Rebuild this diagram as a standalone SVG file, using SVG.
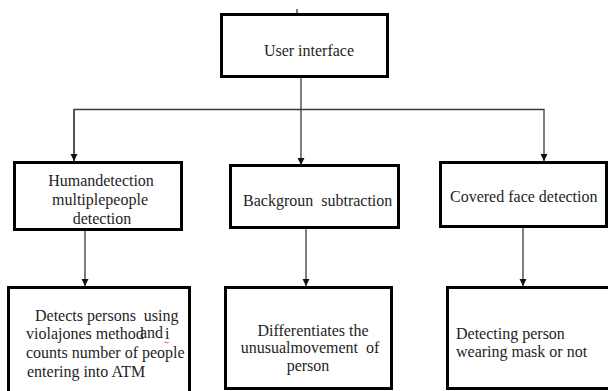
<svg xmlns="http://www.w3.org/2000/svg" width="608" height="391" viewBox="0 0 608 391" font-family="Liberation Serif, Times New Roman, serif">
  <style>
    .box { fill: #ffffff; stroke: #000000; stroke-width: 3; }
    .lbl { font-family: 'Liberation Serif', 'Times New Roman', serif; font-size: 16px; fill: #1e1e1e; }
    .mid { text-anchor: middle; }
    .conn { stroke: #3a3a3a; stroke-width: 1.3; fill: none; }
  </style>
  <defs>
    <marker id="arrow" viewBox="0 0 10 10" refX="10" refY="5" markerWidth="7" markerHeight="8" markerUnits="userSpaceOnUse" orient="auto">
      <path d="M0,0 L10,5 L0,10 Z" fill="#111111"/>
    </marker>
  </defs>

  <rect width="608" height="391" fill="#ffffff"/>

  <!-- connectors -->
  <g id="connectors">
    <line class="conn" x1="297" y1="9" x2="297" y2="13"/>
    <line class="conn" x1="301" y1="77" x2="301" y2="165" marker-end="url(#arrow)"/>
    <polyline class="conn" points="74,161 74,109.5 544,109.5 544,161" marker-end="url(#arrow)"/>
    <line class="conn" x1="74" y1="109.5" x2="74" y2="161" marker-end="url(#arrow)"/>
    <line class="conn" x1="85" y1="231" x2="85" y2="286" marker-end="url(#arrow)"/>
    <line class="conn" x1="306" y1="229" x2="306" y2="286" marker-end="url(#arrow)"/>
    <line class="conn" x1="523" y1="228" x2="523" y2="286" marker-end="url(#arrow)"/>
  </g>

  <g id="user-interface">
    <rect class="box" x="221.5" y="14.5" width="166" height="62" stroke-width="3.5"/>
    <text class="lbl mid" x="309" y="56">User interface</text>
  </g>

  <g id="human-detection">
    <rect class="box" x="14.5" y="162.5" width="167" height="67"/>
    <text class="lbl mid" x="101" y="186">Humandetection</text>
    <text class="lbl mid" x="100" y="205">multiplepeople</text>
    <text class="lbl mid" x="102" y="224">detection</text>
  </g>

  <g id="background-subtraction">
    <rect class="box" x="230.5" y="165.5" width="168" height="62"/>
    <text class="lbl" x="243" y="206" xml:space="preserve">Backgroun  subtraction</text>
  </g>

  <g id="covered-face">
    <rect class="box" x="440.5" y="162.5" width="166" height="64"/>
    <text class="lbl" x="450" y="202">Covered face detection</text>
  </g>

  <g id="detects-persons">
    <rect class="box" x="8.5" y="287.5" width="181" height="110"/>
    <text class="lbl" x="35" y="321" xml:space="preserve">Detects persons  using</text>
    <text class="lbl" x="26" y="339">violajones method</text>
    <text class="lbl" x="140" y="338">and</text>
    <text class="lbl" x="165" y="339">i</text>
    <path d="M164.5,342.5 q1,-1 2,0 t2,0" stroke="#e0302a" stroke-width="1" fill="none"/>
    <text class="lbl" x="26" y="358">counts number of people</text>
    <text class="lbl" x="27" y="377">entering into ATM</text>
  </g>

  <g id="differentiates">
    <rect class="box" x="225.5" y="287.5" width="166" height="101"/>
    <text class="lbl mid" x="313" y="336">Differentiates the</text>
    <text class="lbl mid" x="310" y="353" xml:space="preserve">unusualmovement  of</text>
    <text class="lbl mid" x="308" y="371">person</text>
  </g>

  <g id="mask-detection">
    <rect class="box" x="447.5" y="287.5" width="163" height="101"/>
    <text class="lbl" x="456" y="339">Detecting person</text>
    <text class="lbl" x="456" y="357">wearing mask or not</text>
  </g>
</svg>
